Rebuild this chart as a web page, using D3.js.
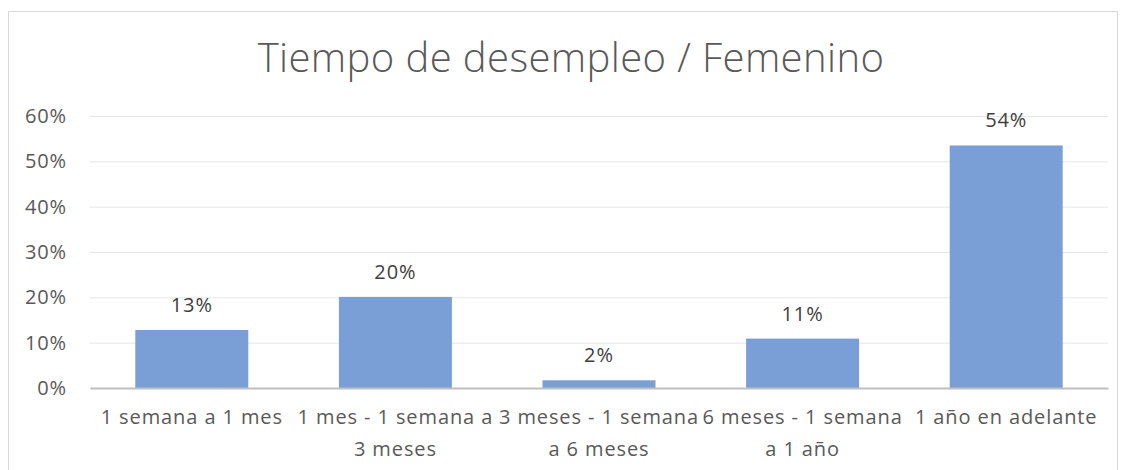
<!DOCTYPE html>
<html><head><meta charset="utf-8">
<script src="https://cdn.jsdelivr.net/npm/d3@7"></script>
<style>
html,body{margin:0;padding:0;background:#fff;}
svg text{font-family:"Open Sans","Liberation Sans",sans-serif;}
</style></head>
<body>
<script>
const title = "Tiempo de desempleo / Femenino";
const categories = ["1 semana a 1 mes", "1 mes - 1 semana a\n3 meses", "3 meses - 1 semana\na 6 meses", "6 meses - 1 semana\na 1 año", "1 año en adelante"];
const values = [0.128, 0.201, 0.017, 0.109, 0.535];
const valueLabels = ["13%", "20%", "2%", "11%", "54%"];
const yTicks = [0, 0.1, 0.2, 0.3, 0.4, 0.5, 0.6];

const W = 1128, H = 470;
const svg = d3.select("body").append("svg").attr("width", W).attr("height", H);

svg.append("rect").attr("x", 8.5).attr("y", 11.5).attr("width", 1109).attr("height", 470)
  .attr("fill", "#fff").attr("stroke", "#d9d9d9").attr("stroke-width", 1);

const m = {left: 90, right: 1108, top: 116, bottom: 388};
const x = d3.scaleBand().domain(categories).range([m.left, m.right]).paddingInner(0.445).paddingOuter(0.2225);
const y = d3.scaleLinear().domain([0, 0.6]).range([m.bottom, m.top]);

svg.append("text").attr("x", 571).attr("y", 72).attr("text-anchor", "middle")
  .attr("font-size", 40).attr("font-weight", 300).attr("fill", "#595959").attr("letter-spacing", 0.4)
  .text(title);

// gridlines
const grid = svg.append("g")
  .call(d3.axisLeft(y).tickValues(yTicks).tickSize(-(m.right - m.left)).tickFormat(""))
  .attr("transform", `translate(${m.left},0)`);
grid.select(".domain").remove();
grid.selectAll("line").attr("stroke", "#e6e6e6").attr("stroke-width", 1);

// y labels
const ya = svg.append("g").attr("transform", `translate(${m.left},0)`)
  .call(d3.axisLeft(y).tickValues(yTicks).tickSize(0).tickPadding(23).tickFormat(d3.format(".0%")));
ya.select(".domain").remove();
ya.selectAll("text").attr("font-size", 20).attr("letter-spacing", 0.9).attr("fill", "#595959").attr("font-family", "Open Sans");

// bars
svg.selectAll("rect.bar").data(values).enter().append("rect").attr("class", "bar")
  .attr("x", (d, i) => x(categories[i])).attr("width", x.bandwidth())
  .attr("y", d => y(d)).attr("height", d => y(0) - y(d))
  .attr("fill", "#7a9fd7");

// value labels
svg.selectAll("text.vl").data(values).enter().append("text").attr("class", "vl")
  .attr("x", (d, i) => x(categories[i]) + x.bandwidth() / 2)
  .attr("y", d => y(d) - 18).attr("text-anchor", "middle")
  .attr("font-size", 20).attr("letter-spacing", 0.9).attr("fill", "#404040")
  .text((d, i) => valueLabels[i]);

// x axis
const xa = svg.append("g").attr("transform", `translate(0,${m.bottom})`)
  .call(d3.axisBottom(x).tickSize(0).tickFormat(""));
xa.select(".domain").attr("stroke", "#bfbfbf").attr("stroke-width", 2);
xa.selectAll(".tick").each(function(d) {
  const t = d3.select(this).append("text").attr("text-anchor", "middle").attr("fill", "#595959")
    .attr("font-size", 20).attr("letter-spacing", 0.9).attr("font-family", "Open Sans");
  d.split("\n").forEach((line, k) => {
    t.append("tspan").attr("x", 0).attr("y", 36 + k * 32).text(line);
  });
});
</script>
</body></html>
